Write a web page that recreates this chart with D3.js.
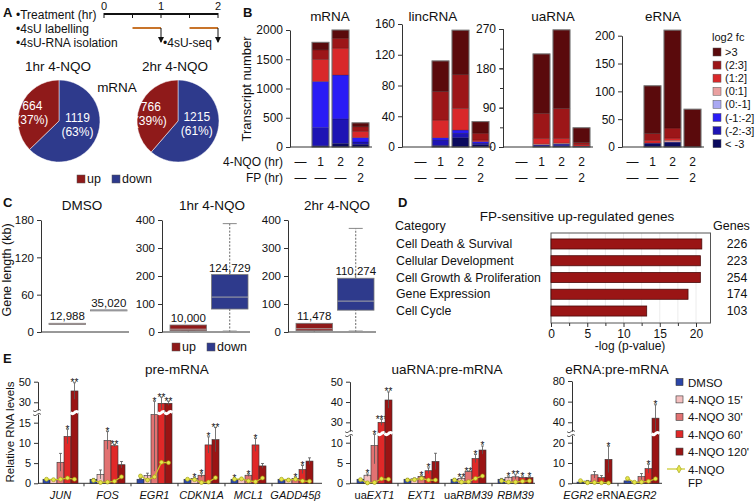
<!DOCTYPE html>
<html>
<head>
<meta charset="utf-8">
<script src="https://d3js.org/d3.v7.min.js" charset="utf-8"></script>
<style>
  body { margin: 0; background: #fff; }
  svg { font-family: "Liberation Sans", Arial, sans-serif; fill: #111; }
  .tick text { font-size: 11px; fill: #111; }
  .domain, .tick line { stroke: #333; }
  .pb .tick text, .pd .tick text { font-size: 12px; }
  .pc .tick text { font-size: 11.5px; }
</style>
</head>
<body>
<svg id="fig" width="756" height="503"></svg>
<script>
// ---------- data ----------
// A: timeline + pies
var timeTicks = [0, 1, 2];
var labelWindows = [[0.5, 1], [1.5, 2]];
var pieTitles = ["1hr 4-NQO", "2hr 4-NQO"];
var pieUp = [664, 766];
var pieDown = [1119, 1215];

// B: transcript numbers per log2 fc bin (order of fcBins, top of stack first)
var fcBins = [">3", "(2:3]", "(1:2]", "(0:1]", "(0:-1]", "(-1:-2]", "(-2:-3]", "< -3"];
var nqoHours = ["\u2014", "1", "2", "2"];
var fpHours = ["\u2014", "\u2014", "\u2014", "2"];
var mrnaCounts = [[0,0,0,0,0,0,0,0], [130,160,380,0,0,790,310,20], [140,170,460,0,0,750,420,60], [68,75,110,0,0,75,40,45]];
var lincCounts = [[0,0,0,0,0,0,0,0], [40,37,23,0,0,3,7,2], [58,44,28,0,0,4,6,12], [15,9,2,0,0,2,2,3]];
var uaCounts   = [[0,0,0,0,0,0,0,0], [136,57,13,2,0,1,2,2], [180,68,11,2,0,1,3,3], [34,5,3,0,0,0,1,1]];
var eCounts    = [[0,0,0,0,0,0,0,0], [86,12,5,0,0,0,1,6], [176,18,4,3,0,0,1,8], [68,0,0,0,0,0,0,0]];
var mrnaTicks = [0, 500, 1000, 1500, 2000];
var lincTicks = [0, 40, 80, 120, 160];
var uaTicks = [0, 90, 180, 270];
var eTicks = [0, 50, 100, 150, 200];

// C: gene length boxes, kb: [min, q1, median, q3, max]
var boxPanels = ["DMSO", "1hr 4-NQO", "2hr 4-NQO"];
var boxUp = [[12, 12, 13, 14, 14], [0, 4.6, 10, 25, 25], [0, 4.6, 11.5, 31, 31]];
var boxDown = [[34.5, 34.5, 35, 35.5, 35.5], [0, 82, 124.7, 205, 387], [0, 78, 110.3, 192, 370]];
var boxUpLabels = ["12,988", "10,000", "11,478"];
var boxDownLabels = ["35,020", "124,729", "110,274"];
var boxTicks = [[0, 60, 120, 180], [0, 100, 200, 300, 400], [0, 100, 200, 300, 400]];

// D: pathway enrichment
var goCategories = ["Cell Death & Survival", "Cellular Development", "Cell Growth & Proliferation", "Gene Expression", "Cell Cycle"];
var goLogP = [20.8, 20.6, 20.6, 18.9, 13.2];
var goGenes = [226, 223, 254, 174, 103];
var goTicks = [0, 5, 10, 15, 20];

// E: relative RNA levels (DMSO, 15', 30', 60', 120') and FP line
var eConditions = ["DMSO", "4-NQO 15'", "4-NQO 30'", "4-NQO 60'", "4-NQO 120'"];
var preGenes = ["JUN", "FOS", "EGR1", "CDKN1A", "MCL1", "GADD45\u03b2"];
var preMean = [[1,0.9,5.2,11.6,41], [1,2.2,10.6,9.3,4.6], [1,1.9,17,29,29], [1,1.2,2.0,9.5,10.8], [1,1.0,2.0,9.5,4.3], [1,1.0,1.2,3.4,5.5]];
var preErr  = [[0.2,0.1,2.2,1.8,8], [0.2,1.1,2.2,0.3,0.8], [0.2,0.6,14,6,2], [0.2,0.3,0.5,2.0,3.0], [0.2,0.2,0.3,1.6,0.6], [0.2,0.2,0.3,1.0,0.8]];
var preStars = [["","","","*","**"], ["","","*","**",""], ["","","*","**","**"], ["","*","*","*","**"], ["*","","*","*",""], ["","","*","*",""]];
var preFP = [[1.0,0.9,1.0,1.3,1.0], [0.7,0.2,0.3,0.5,1.6], [1.8,0.8,1.6,5.2,5.1], [1.0,0.9,0.2,0.3,1.4], [1.0,1.1,0.6,0.4,1.3], [1.0,0.8,1.0,0.6,0.5]];
var preTicks = [0, 5, 10, 15, 30, 50];

var uaGenes = ["uaEXT1", "EXT1", "uaRBM39", "RBM39"];
var uaMean = [[1,2.0,9.3,30,41], [1,1.1,1.7,3.1,5.4], [1,1.2,2.9,6.1,8.2], [1,1.4,1.6,1.4,1.4]];
var uaErr  = [[0.2,0.3,4.5,1.5,4], [0.2,0.2,0.3,0.7,2.0], [0.2,0.3,0.1,1.0,1.0], [0.2,0.2,0.5,0.2,0.2]];
var uaStars = [["","*","*","***","**"], ["","","*","*",""], ["","**","**","*","*"], ["","*","**","*","*"]];
var uaFP = [[0.9,0.1,0.2,1.1,1.0], [0.8,0.9,1.2,0.8,0.8], [0.8,0.3,0.4,1.2,1.8], [0.6,0.3,0.3,0.5,0.6]];
var uaRelTicks = [0, 5, 10, 30, 40, 50];

var erGenes = ["EGR2 eRNA", "EGR2"];
var erMean = [[0.6,1.1,4.2,2.8,11.8], [1.2,0.6,3.3,7.2,44]];
var erErr  = [[0.3,0.3,1.6,1.0,6.5], [0.5,0.3,1.5,2.2,13]];
var erStars = [["","","","","*"], ["","","","*","*"]];
var erFP = [[1.3,0.3,0.4,0.3,0.2], [2.4,0.5,0.6,1.0,2.2]];
var erTicks = [0, 10, 20, 40, 60, 80];

// ---------- styles ----------
var fcColors = ["#5a0a0c", "#9c1618", "#d9282a", "#eaa0a0", "#a9a8f2", "#2a1cf5", "#1e14b4", "#0b0a5e"];
var upColor = "#8f1a1a", downColor = "#2e3a8c";
var condColors = ["#2b45a8", "#f4c0c0", "#e27272", "#e02828", "#9a1414"];
var fpColor = "#c9c927";

var svg = d3.select("#fig");

function txt(g, s, x, y, size, anchor) {
  return g.append("text").attr("x", x).attr("y", y)
    .attr("font-size", size).attr("text-anchor", anchor || "start").text(s);
}
function letter(s, x, y) {
  txt(svg, s, x, y, 13).attr("font-weight", "bold");
}

// ================= A =================
var gA = svg.append("g");
letter("A", 3, 17);
var tx = d3.scaleLinear().domain([0, 2]).range([104, 218]);
gA.append("line").attr("x1", tx(0)).attr("x2", tx(2)).attr("y1", 14).attr("y2", 14)
  .attr("stroke", "#111").attr("stroke-width", 2);
d3.range(0, 2.01, 0.5).forEach(function(t) {
  gA.append("line").attr("x1", tx(t)).attr("x2", tx(t)).attr("y1", 13).attr("y2", 18)
    .attr("stroke", "#111").attr("stroke-width", 1);
});
timeTicks.forEach(function(t) { txt(gA, t, tx(t), 10, 11, "middle"); });
txt(gA, "\u2022Treatment (hr)", 16, 19, 12);
txt(gA, "\u20224sU labelling", 16, 33, 12);
txt(gA, "\u20224sU-RNA isolation", 16, 47, 12);
txt(gA, "\u20224sU-seq", 163, 47, 12);
svg.append("defs").append("marker").attr("id", "arr").attr("viewBox", "0 0 6 6")
  .attr("refX", 5).attr("refY", 3).attr("markerWidth", 6).attr("markerHeight", 6)
  .attr("orient", "auto").append("path").attr("d", "M0,0L6,3L0,6Z").attr("fill", "#111");
labelWindows.forEach(function(w) {
  gA.append("line").attr("x1", tx(w[0])).attr("x2", tx(w[1])).attr("y1", 28).attr("y2", 28)
    .attr("stroke", "#c8742a").attr("stroke-width", 2);
  gA.append("line").attr("x1", tx(w[1])).attr("x2", tx(w[1])).attr("y1", 28).attr("y2", 42)
    .attr("stroke", "#111").attr("stroke-width", 1).attr("marker-end", "url(#arr)");
});

var pieCx = [59, 178];
var pie = d3.pie().sort(null);
var arc = d3.arc().innerRadius(0).outerRadius(41);
pieTitles.forEach(function(t, i) {
  txt(gA, t, i === 0 ? 58 : 175, 71, 13.5, "middle");
  var g = gA.append("g").attr("transform", "translate(" + pieCx[i] + ",121)");
  var total = pieUp[i] + pieDown[i];
  var arcs = pie([pieDown[i], pieUp[i]]);
  g.selectAll("path").data(arcs).enter().append("path").attr("d", arc)
    .attr("fill", function(d, j) { return j === 0 ? downColor : upColor; })
    .attr("stroke", "#fff").attr("stroke-width", 0.5);
  var vals = [pieDown[i], pieUp[i]];
  arcs.forEach(function(a, j) {
    var r = j === 0 ? 20 : 29;
    var c = d3.arc().innerRadius(r).outerRadius(r).centroid(a);
    var yOff = j === 0 ? -7 : 0;
    txt(g, vals[j], c[0], c[1] + yOff, 12, "middle").attr("fill", "#fff");
    txt(g, "(" + Math.round(vals[j] / total * 100) + "%)", c[0], c[1] + yOff + 14, 12, "middle").attr("fill", "#fff");
  });
});
txt(gA, "mRNA", 117, 92, 13.5, "middle");
gA.append("rect").attr("x", 77).attr("y", 175).attr("width", 8).attr("height", 8).attr("fill", upColor).attr("stroke", "#555").attr("stroke-width", 0.5);
txt(gA, "up", 87, 183, 12.5);
gA.append("rect").attr("x", 112).attr("y", 175).attr("width", 8).attr("height", 8).attr("fill", downColor).attr("stroke", "#555").attr("stroke-width", 0.5);
txt(gA, "down", 122, 183, 12.5);

// ================= B =================
var gB = svg.append("g").attr("class", "pb");
letter("B", 243, 17);
var bSub = [
  { title: "mRNA", titleX: 330, counts: mrnaCounts, ticks: mrnaTicks, axisX: 290, x0: 292, top: 30, max: 2000 },
  { title: "lincRNA", titleX: 433, counts: lincCounts, ticks: lincTicks, axisX: 402, x0: 412, top: 24, max: 160 },
  { title: "uaRNA", titleX: 553, counts: uaCounts, ticks: uaTicks, minor: true, axisX: 503, x0: 513, top: 29, max: 270 },
  { title: "eRNA", titleX: 663, counts: eCounts, ticks: eTicks, axisX: 622, x0: 624, top: 35.7, max: 200 }
];
var stackKeys = fcBins.slice().reverse();
bSub.forEach(function(p) {
  var y = d3.scaleLinear().domain([0, p.max]).range([147, p.top]);
  var x = d3.scaleBand().domain([0, 1, 2, 3]).range([p.x0, p.x0 + 77]).paddingInner(0.15);
  var g = gB.append("g");
  txt(g, p.title, p.titleX, 21, 13.5, "middle");
  if (p.minor) {
    g.append("g").attr("transform", "translate(" + p.axisX + ",0)")
      .call(d3.axisLeft(y).tickValues(d3.range(0, 271, 45)).tickSize(3).tickFormat(""));
  }
  g.append("g").attr("transform", "translate(" + p.axisX + ",0)")
    .call(d3.axisLeft(y).tickValues(p.ticks).tickSize(4).tickSizeOuter(0).tickFormat(d3.format("d")));
  var rows = p.counts.map(function(c) {
    var o = {};
    fcBins.forEach(function(b, k) { o[b] = c[k]; });
    return o;
  });
  var series = d3.stack().keys(stackKeys)(rows);
  series.forEach(function(s) {
    var col = fcColors[fcBins.indexOf(s.key)];
    s.forEach(function(d, i) {
      if (d[1] - d[0] <= 0) return;
      g.append("rect").attr("x", x(i)).attr("width", x.bandwidth())
        .attr("y", y(d[1])).attr("height", y(d[0]) - y(d[1]))
        .attr("fill", col).attr("stroke", "rgba(0,0,0,0.35)").attr("stroke-width", 0.5);
    });
  });
  rows.forEach(function(r, i) {
    var tot = d3.sum(fcBins, function(b) { return r[b]; });
    if (tot > 0) {
      g.append("rect").attr("x", x(i)).attr("width", x.bandwidth())
        .attr("y", y(tot)).attr("height", y(0) - y(tot))
        .attr("fill", "none").attr("stroke", "#777").attr("stroke-width", 1);
    }
  });
  g.append("line").attr("x1", p.axisX).attr("x2", p.x0 + 80).attr("y1", y(0)).attr("y2", y(0))
    .attr("stroke", "#333");
  nqoHours.forEach(function(h, i) { txt(g, h, x(i) + x.bandwidth() / 2, 166, 12, "middle"); });
  fpHours.forEach(function(h, i) { txt(g, h, x(i) + x.bandwidth() / 2, 182, 12, "middle"); });
});
txt(gB, "Transcript number", 0, 0, 13, "middle").attr("transform", "translate(251,89) rotate(-90)");
txt(gB, "4-NQO (hr)", 283, 166, 12, "end");
txt(gB, "FP (hr)", 283, 182, 12, "end");
txt(gB, "log2 fc", 712, 41, 11);
fcBins.forEach(function(b, k) {
  var yy = 52 + k * 13.1;
  gB.append("rect").attr("x", 713).attr("y", yy - 4).attr("width", 8).attr("height", 8)
    .attr("fill", fcColors[k]).attr("stroke", "#555").attr("stroke-width", 0.5);
  txt(gB, b, 725, yy + 4, 11);
});

// ================= C =================
var gC = svg.append("g").attr("class", "pc");
letter("C", 3, 207);
txt(gC, "Gene length (kb)", 0, 0, 12.5, "middle").attr("transform", "translate(11,270) rotate(-90)");
var cAxisX = [41, 162, 288];
var cTitleX = [82, 212, 337];
boxPanels.forEach(function(name, i) {
  var ax = cAxisX[i];
  var ticks = boxTicks[i];
  var y = d3.scaleLinear().domain([0, ticks[ticks.length - 1]]).range([332, 220]);
  var x = d3.scaleBand().domain(["up", "down"]).range([ax + 8, ax + 86]).paddingInner(0.12);
  var g = gC.append("g");
  txt(g, name, cTitleX[i], 210, 13.5, "middle");
  g.append("g").attr("transform", "translate(" + ax + ",0)")
    .call(d3.axisLeft(y).tickValues(ticks).tickSize(4).tickSizeOuter(0));
  g.append("line").attr("x1", ax).attr("x2", ax + 88).attr("y1", y(0)).attr("y2", y(0)).attr("stroke", "#333");
  [["up", boxUp[i], upColor, boxUpLabels[i]], ["down", boxDown[i], downColor, boxDownLabels[i]]].forEach(function(b) {
    var s = b[1], x0 = x(b[0]), w = x.bandwidth(), cx = x0 + w / 2;
    if (s[4] > s[3]) {
      g.append("line").attr("x1", cx).attr("x2", cx).attr("y1", y(s[3])).attr("y2", y(s[4]))
        .attr("stroke", "#666").attr("stroke-dasharray", "2,1.5");
      g.append("line").attr("x1", cx - 7).attr("x2", cx + 7).attr("y1", y(s[4])).attr("y2", y(s[4])).attr("stroke", "#888");
    }
    if (s[1] > s[0]) {
      g.append("line").attr("x1", cx).attr("x2", cx).attr("y1", y(s[0])).attr("y2", y(s[1]))
        .attr("stroke", "#666").attr("stroke-dasharray", "2,1.5");
      g.append("line").attr("x1", cx - 7).attr("x2", cx + 7).attr("y1", y(s[0]) - 1).attr("y2", y(s[0]) - 1).attr("stroke", "#999");
    }
    g.append("rect").attr("x", x0).attr("width", w).attr("y", y(s[3]))
      .attr("height", Math.max(1, y(s[1]) - y(s[3])))
      .attr("fill", b[2]).attr("stroke", "#777").attr("stroke-width", 0.8);
    g.append("line").attr("x1", x0).attr("x2", x0 + w).attr("y1", y(s[2])).attr("y2", y(s[2]))
      .attr("stroke", "#a8a8a8").attr("stroke-width", 1);
    txt(g, b[3], cx, y(s[3]) - 3, 11.5, "middle");
  });
});
gC.append("rect").attr("x", 172).attr("y", 343).attr("width", 8).attr("height", 8).attr("fill", upColor).attr("stroke", "#555").attr("stroke-width", 0.5);
txt(gC, "up", 182, 351, 12.5);
gC.append("rect").attr("x", 207).attr("y", 343).attr("width", 8).attr("height", 8).attr("fill", downColor).attr("stroke", "#555").attr("stroke-width", 0.5);
txt(gC, "down", 217, 351, 12.5);

// ================= D =================
var gD = svg.append("g").attr("class", "pd");
letter("D", 398, 207);
txt(gD, "FP-sensitive up-regulated genes", 577, 221, 13.5, "middle");
txt(gD, "Category", 395, 230, 12.5);
txt(gD, "Genes", 713, 230, 12.5);
var dx = d3.scaleLinear().domain([0, 22]).range([551, 710.5]);
var dy = d3.scaleBand().domain(goCategories).range([235.6, 319.4]).paddingInner(0.4).paddingOuter(0.2);
d3.range(2.5, 22, 2.5).forEach(function(v) {
  gD.append("line").attr("x1", dx(v)).attr("x2", dx(v)).attr("y1", 233).attr("y2", 323)
    .attr("stroke", "#ececec");
});
gD.append("rect").attr("x", dx(0)).attr("y", 233).attr("width", dx(22) - dx(0)).attr("height", 90)
  .attr("fill", "none").attr("stroke", "#555");
goCategories.forEach(function(c, i) {
  var yy = dy(c);
  gD.append("rect").attr("x", dx(0)).attr("y", yy).attr("width", dx(goLogP[i]) - dx(0)).attr("height", dy.bandwidth())
    .attr("fill", "#9a1515").attr("stroke", "#4a0a0a").attr("stroke-width", 0.8);
  txt(gD, c, 396, yy + dy.bandwidth() / 2 + 4, 12.3);
  txt(gD, goGenes[i], 737, yy + dy.bandwidth() / 2 + 4, 12.3, "middle");
});
gD.append("g").attr("transform", "translate(0,323)")
  .call(d3.axisBottom(dx).tickValues(d3.range(2.5, 22, 5)).tickSize(3).tickFormat(""))
  .select(".domain").remove();
gD.append("g").attr("transform", "translate(0,323)")
  .call(d3.axisBottom(dx).tickValues(goTicks).tickSize(4).tickPadding(2).tickSizeOuter(0))
  .select(".domain").remove();
txt(gD, "-log (p-value)", 630, 350, 12, "middle");

// ================= E =================
var gE = svg.append("g");
letter("E", 3, 363);
txt(gE, "Relative RNA levels", 0, 0, 11.5, "middle").attr("transform", "translate(14,432) rotate(-90)");

function wavePath(x0, x1, y, amp) {
  var pts = d3.range(0, 1.0001, 0.125).map(function(t) {
    return [x0 + t * (x1 - x0), y + amp * Math.sin(t * 2 * Math.PI)];
  });
  return d3.line().curve(d3.curveBasis)(pts);
}

function geneLabel(g, name, x, y) {
  var t = g.append("text").attr("x", x).attr("y", y).attr("font-size", 11).attr("text-anchor", "middle");
  if (name.indexOf("ua") === 0) {
    t.append("tspan").text("ua");
    t.append("tspan").attr("font-style", "italic").text(name.slice(2));
  } else if (name.indexOf(" eRNA") > 0) {
    t.append("tspan").attr("font-style", "italic").text(name.split(" ")[0]);
    t.append("tspan").text(" eRNA");
  } else {
    t.attr("font-style", "italic").text(name);
  }
}

function drawRel(p) {
  var g = gE.append("g");
  var y = d3.scaleLinear().domain(p.domain).range(p.range);
  var n = p.genes.length;
  var gx = d3.scaleBand().domain(p.genes).range([p.g0 - 6, p.g0 - 6 + 47 * n]).paddingInner(0.255).paddingOuter(0.1275);
  var cx = d3.scaleBand().domain(eConditions).range([0, gx.bandwidth()]);
  txt(g, p.title, p.titleX, 374, 13.5, "middle");
  g.append("g").attr("transform", "translate(" + p.axisX + ",0)")
    .call(d3.axisLeft(y).tickValues(p.ticks).tickSize(4).tickSizeOuter(0));
  g.append("line").attr("x1", p.axisX).attr("x2", p.xEnd).attr("y1", y(0)).attr("y2", y(0)).attr("stroke", "#333");
  var yb = (p.range[1] + p.range[2]) / 2;
  g.append("rect").attr("x", p.axisX - 2).attr("y", yb - 2).attr("width", 4).attr("height", 4).attr("fill", "#fff");
  [-2, 2].forEach(function(o) {
    g.append("path").attr("d", wavePath(p.axisX - 5, p.axisX + 3, yb + o, 1.2))
      .attr("fill", "none").attr("stroke", "#333").attr("stroke-width", 0.8);
  });
  p.genes.forEach(function(gene, gi) {
    var x0 = gx(gene);
    if (gi > 0) {
      g.append("line").attr("x1", x0 - 6).attr("x2", x0 - 6).attr("y1", y(0)).attr("y2", y(0) + 3).attr("stroke", "#333");
    }
    p.mean[gi].forEach(function(v, ci) {
      var bx = x0 + cx(eConditions[ci]), bw = cx.bandwidth(), mid = bx + bw / 2;
      g.append("rect").attr("x", bx).attr("width", bw).attr("y", y(v)).attr("height", y(0) - y(v))
        .attr("fill", condColors[ci]).attr("stroke", "#333").attr("stroke-width", 0.6);
      if (v > p.domain[1]) {
        g.append("path").attr("d", wavePath(bx - 0.5, bx + bw + 0.5, yb, 1.2))
          .attr("fill", "none").attr("stroke", "#fff").attr("stroke-width", 3);
      }
      var e = p.err[gi][ci];
      var lo = Math.max(0, v - e), hi = v + e;
      g.append("line").attr("x1", mid).attr("x2", mid).attr("y1", y(lo)).attr("y2", y(hi))
        .attr("stroke", "#555").attr("stroke-width", 0.8);
      g.append("line").attr("x1", mid - 1.5).attr("x2", mid + 1.5).attr("y1", y(hi)).attr("y2", y(hi))
        .attr("stroke", "#555").attr("stroke-width", 0.8);
      var st = p.stars[gi][ci];
      if (st) txt(g, st, mid, y(hi) + 3.5, 10, "middle");
    });
    var pts = p.fp[gi].map(function(v, ci) {
      return [x0 + cx(eConditions[ci]) + cx.bandwidth() / 2, y(v)];
    });
    g.append("path").attr("d", d3.line()(pts)).attr("fill", "none").attr("stroke", fpColor).attr("stroke-width", 1.2);
    pts.forEach(function(pt) {
      g.append("circle").attr("cx", pt[0]).attr("cy", pt[1]).attr("r", 2)
        .attr("fill", "#e6e64a").attr("stroke", "#9c9c10").attr("stroke-width", 0.6);
    });
    geneLabel(g, gene, x0 + gx.bandwidth() / 2, 499);
  });
}

drawRel({ title: "pre-mRNA", titleX: 177, genes: preGenes, mean: preMean, err: preErr, stars: preStars, fp: preFP,
  ticks: preTicks, axisX: 38, g0: 43, xEnd: 322, domain: [0, 17, 22, 50], range: [483.3, 414.6, 410.5, 381.7] });
drawRel({ title: "uaRNA:pre-mRNA", titleX: 447, genes: uaGenes, mean: uaMean, err: uaErr, stars: uaStars, fp: uaFP,
  ticks: uaRelTicks, axisX: 350, g0: 357, xEnd: 535, domain: [0, 12, 25, 50], range: [483.3, 434.6, 432.5, 381.7] });
drawRel({ title: "eRNA:pre-mRNA", titleX: 617, genes: erGenes, mean: erMean, err: erErr, stars: erStars, fp: erFP,
  ticks: erTicks, axisX: 572, g0: 577, xEnd: 662, domain: [0, 24, 30, 80], range: [483.3, 434.6, 432.6, 381] });

// E legend
eConditions.forEach(function(c, i) {
  var yy = 382 + i * 17.4;
  gE.append("rect").attr("x", 676).attr("y", yy - 3.5).attr("width", 7).attr("height", 7)
    .attr("fill", condColors[i]).attr("stroke", "#333").attr("stroke-width", 0.6);
  txt(gE, c, 688, yy + 4.5, 11.5);
});
gE.append("line").attr("x1", 667).attr("x2", 685).attr("y1", 469).attr("y2", 469).attr("stroke", fpColor).attr("stroke-width", 1.2);
gE.append("path").attr("d", d3.symbol().type(d3.symbolDiamond).size(18)()).attr("transform", "translate(679,469)")
  .attr("fill", "#e6e64a").attr("stroke", "#9c9c10").attr("stroke-width", 0.6);
txt(gE, "4-NQO", 688, 473.5, 11.5);
txt(gE, "FP", 688, 487, 11.5);
</script>
</body>
</html>
